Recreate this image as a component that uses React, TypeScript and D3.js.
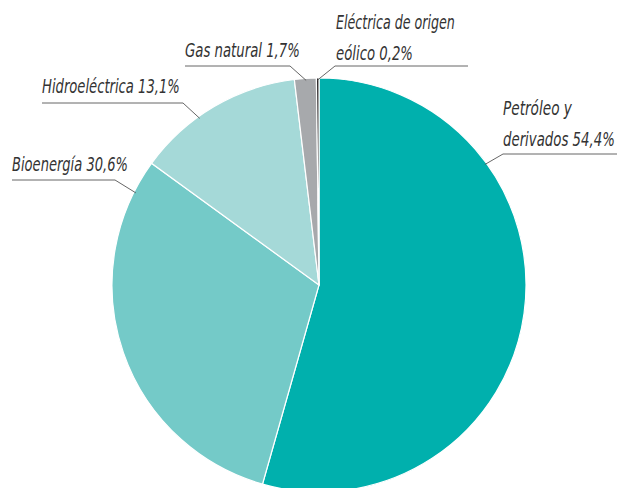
import React, { useEffect, useRef } from 'react';
import * as d3 from 'd3';

// shares of the energy matrix (%)
const categories = ['Petróleo y derivados', 'Bioenergía', 'Hidroeléctrica', 'Gas natural', 'Eléctrica de origen eólico'];
const values = [54.4, 30.6, 13.1, 1.7, 0.2];
const colors = ['#00b0ad', '#74cac8', '#a5d9d8', '#a7a9ac', '#231f20'];

// label text, split in lines
const labelLines = [
  ['Petróleo y', 'derivados 54,4%'],
  ['Bioenergía 30,6%'],
  ['Hidroeléctrica 13,1%'],
  ['Gas natural 1,7%'],
  ['Eléctrica de origen', 'eólico 0,2%'],
];

// layout of labels: text x, first baseline, underline y, underline start/end, elbow x, leader angle on the pie (deg)
const labelLayout = [
  { x: 503, y: 115, lineY: 154, x0: 503, x1: 617, elbow: 503, angle: 54, widths: [69, 112] },
  { x: 12, y: 171, lineY: 180, x0: 12, x1: 115, elbow: 115, angle: 296.7, widths: [116] },
  { x: 42, y: 93, lineY: 103, x0: 42, x1: 183, elbow: 183, angle: 324.4, widths: [138] },
  { x: 185, y: 57, lineY: 66, x0: 185, x1: 290, elbow: 290, angle: 356.4, widths: [115] },
  { x: 336, y: 29, lineY: 66, x0: 335, x1: 468, elbow: 335, angle: 359.6, widths: [119, 77] },
];

const W = 619;
const H = 488;

const App = () => {
  const ref = useRef<SVGSVGElement>(null);

  useEffect(() => {
    const svg = d3.select(ref.current);
    svg.selectAll('*').remove();

    const cx = 319;
    const cy = 285;
    const r = 207;

    const data = categories.map((c, i) => ({ name: c, value: values[i], i }));
    const pie = d3.pie<any>().sort(null).value(d => d.value);
    const arc = d3.arc<any>().innerRadius(0).outerRadius(r);

    const g = svg.append('g').attr('transform', 'translate(' + cx + ',' + cy + ')');

    g.selectAll('path')
      .data(pie(data))
      .enter()
      .append('path')
      .attr('d', arc)
      .attr('fill', d => colors[d.data.i])
      .attr('stroke', '#fff')
      .attr('stroke-width', 1.2);

    const labels = svg.append('g');
    labelLayout.forEach((l, i) => {
      const a = (l.angle * Math.PI) / 180;
      const px = cx + Math.sin(a) * (r - 2);
      const py = cy - Math.cos(a) * (r - 2);

      labels.append('path')
        .attr('d', 'M' + l.x0 + ',' + l.lineY + 'H' + l.x1 + 'M' + l.elbow + ',' + l.lineY + 'L' + px + ',' + py)
        .attr('fill', 'none')
        .attr('stroke', '#555')
        .attr('stroke-width', 0.9);

      labelLines[i].forEach((t, k) => {
        const txt = labels.append('text')
          .attr('font-family', '"DejaVu Sans", sans-serif')
          .attr('font-style', 'italic')
          .attr('font-size', 19)
          .attr('fill', '#333')
          .text(t);
        // squeeze to the condensed width of the original labels
        const natural = (txt.node() as SVGTextElement).getComputedTextLength() || l.widths[k];
        const sx = l.widths[k] / natural;
        txt.attr('transform', 'translate(' + l.x + ',' + (l.y + k * 31) + ') scale(' + sx + ',1)');
      });
    });
  }, []);

  return (
    <svg
      ref={ref}
      width={W}
      height={H}
      style={{ position: 'absolute', left: 0, top: 0, background: '#fff' }}
    />
  );
};

export default App;
